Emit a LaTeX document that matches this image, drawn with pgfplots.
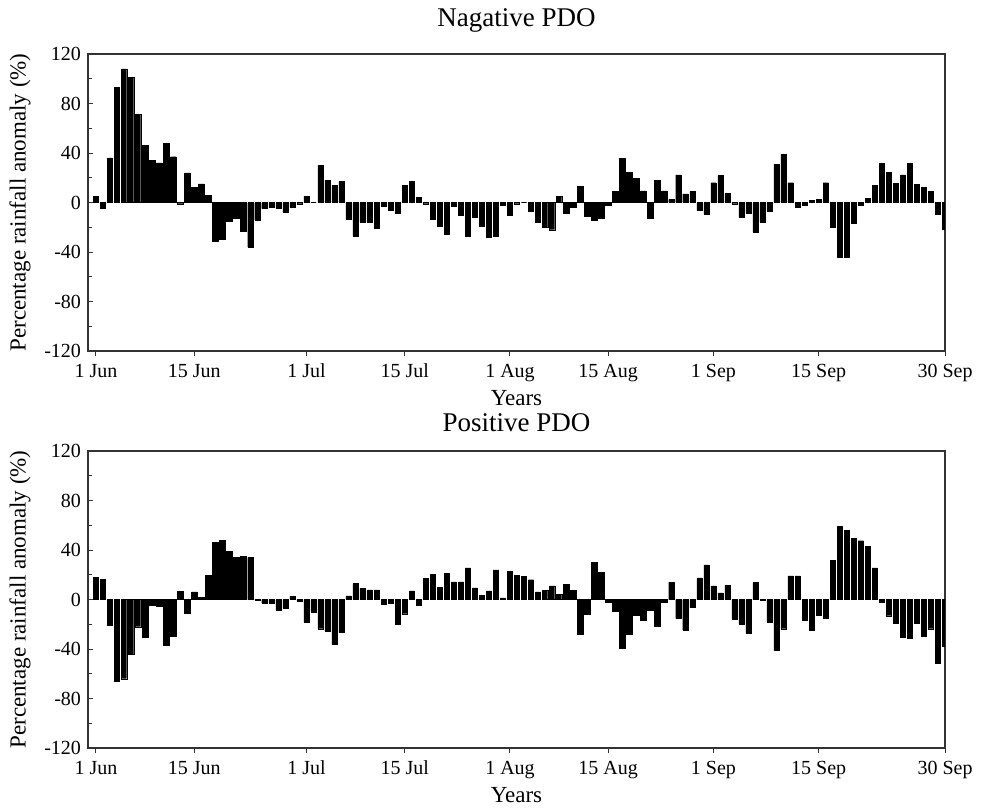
\documentclass[border=0pt]{standalone}
\usepackage{pgfplots}
\pgfplotsset{compat=1.18}
\usepackage{pgfplotstable}
\usepackage{fontspec}
\setmainfont{Liberation Serif}

% Negative PDO, 1 Jun (index 0) to 30 Sep (index 121)
\pgfplotstableread{
y
5
-5
36
93
108
101
71
46
34
32
48
37
-1
24
12
15
6
-31
-30
-15
-13
-23
-36
-14
-5
-4
-5
-8
-4
-1
5
0
30
18
14
17
-13.5
-27
-16
-16
-20.5
-3
-6
-9
14
17
4
-1
-13.5
-19
-26
-3
-10
-27.5
-12
-19
-28
-27
-2
-10
-1
0
-7
-16
-20
-22
5
-8.6
-4
13
-11
-14.5
-13
-2
9
35.6
24.5
19.7
9.4
-12.7
17.8
9.4
2.4
22.4
7
9
-6.5
-9.4
16
22
7.3
-1
-12
-8.6
-24
-16
-7.3
31
39
16
-3.5
-2.4
2
2.7
16
-19.7
-44
-44
-17
-2.4
3.5
14
31.5
24.5
15.4
22.4
31.5
14.8
12.4
8.9
-9.4
-21.5
}\negpdo

% Positive PDO
\pgfplotstableread{
y
17.7
16.4
-20.6
-66
-64
-44
-22
-30.6
-4.8
-5.4
-36.7
-29.5
6.7
-10.7
6.2
1.6
19.8
46
47.7
39
33.8
35
33.8
-0.5
-2.7
-2.7
-8.6
-6.7
2.7
-1.3
-18.5
-10
-23.6
-25.5
-36.5
-26.8
3
12.9
9
7.8
7.8
-4
-2.7
-19.6
-11.5
7
-4.3
17
20.4
10
21.4
14.2
14.2
25.5
9.4
3.2
7
24
1.3
23
19.6
18.8
16
6.2
7.5
11
4.3
12
7.5
-28
-11.8
29.8
21.7
-2.4
-9.4
-39.4
-28
-12.6
-16.6
-8.6
-21.4
-2.1
14
-15.5
-24.7
-6.4
17.4
28
11
5.4
11.5
-15.8
-19.8
-27
13.7
-0.5
-18.5
-41.3
-23.6
19
19
-17
-24.7
-12.9
-15.3
31.4
59.2
55.8
49.6
47.5
43.2
25.5
-1.9
-13.1
-19
-30.8
-31.4
-19.3
-29.8
-23.6
-51.5
-37.5
}\pospdo

\pgfplotsset{
  pdostyle/.style={
    scale only axis,
    width=428.5pt, height=148.5pt,
    xmin=-1.14, xmax=121,
    ymin=-120, ymax=120,
    xtick={0,14,30,44,59,73,88,103,121},
    xticklabels={1 Jun,15 Jun,1 Jul,15 Jul,1 Aug,15 Aug,1 Sep,15 Sep,30 Sep},
    ytick={-120,-80,-40,0,40,80,120},
    yticklabels={-120,-80,-40,0,40,80,120},
    minor ytick={-100,-60,-20,20,60,100},
    tick align=inside,
    xtick pos=lower, ytick pos=left,
    major tick length=2.6pt, minor tick length=2pt,
    tick style={black!80, line width=0.5pt},
    axis line style={black!80, line width=0.7pt},
    tick label style={font=\fontsize{10}{12}\selectfont},
    xticklabel style={text height=7pt, text depth=2pt},
    xlabel={Years},
    ylabel={Percentage rainfall anomaly (\%)},
    label style={font=\fontsize{11.5}{13}\selectfont},
    xlabel style={at={(axis description cs:0.5,-0.158)}, anchor=center},
    ylabel style={at={(axis description cs:-0.0793,0.5)}, anchor=center},
    every axis title shift=0pt,
    title style={font=\fontsize{13.5}{16}\selectfont, anchor=center},
    ybar, bar shift=0pt, bar width=2.65pt,
  },
  barstyle/.style={fill=black, draw=black, line width=0.2pt},
}

\begin{document}
\begin{tikzpicture}
\path[use as bounding box] (0,0) rectangle (490.5pt,-404.5pt);
\begin{axis}[pdostyle, at={(44pt,-175.5pt)}, anchor=south west,
  title={Nagative PDO}, title style={at={(axis description cs:0.5,1.1145)}}]
  \addplot[barstyle] table[x expr=\coordindex, y=y] {\negpdo};
\end{axis}
\begin{axis}[pdostyle, at={(44pt,-374pt)}, anchor=south west,
  title={Positive PDO}, title style={at={(axis description cs:0.5,1.0943)}}]
  \addplot[barstyle] table[x expr=\coordindex, y=y] {\pospdo};
\end{axis}
\end{tikzpicture}
\end{document}
